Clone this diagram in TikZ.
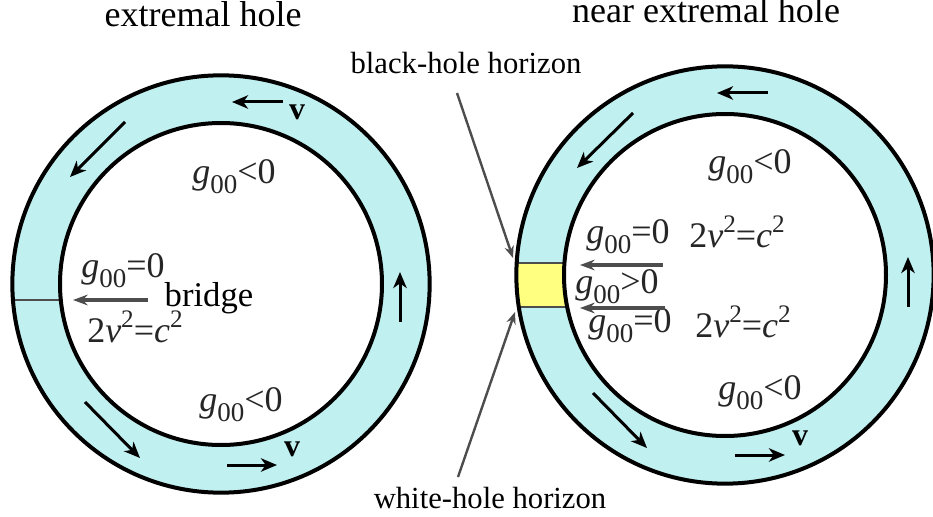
\documentclass[tikz,border=0pt]{standalone}
\usepackage{fontspec}
\setmainfont{Liberation Serif}
\usepackage{tikz}
\usetikzlibrary{arrows.meta}

\definecolor{ringcyan}{HTML}{C0F0F0}
\definecolor{horyellow}{HTML}{FFFF80}
\definecolor{pointgray}{HTML}{4D4D4D}

\newcommand{\gzz}[1]{\textit{g}\raisebox{-0.28em}{\scalebox{0.75}{00}}#1}
\newcommand{\vcrel}{2\textit{v}\raisebox{0.42em}{\scalebox{0.7}{2}}=\textit{c}\raisebox{0.42em}{\scalebox{0.7}{2}}}

\tikzset{
  flowarrow/.style={line width=2.25pt, -{Stealth[length=12pt,width=10pt,inset=3.5pt]}},
  bridgearrow/.style={pointgray, line width=2.6pt, -{Stealth[length=11pt,width=8pt]}},
  horarrow/.style={pointgray, line width=1.8pt, -{Stealth[length=9pt,width=7pt]}},
  metric/.style={font=\fontsize{27}{31}\selectfont, text=black!85, inner sep=0pt},
  title/.style={font=\fontsize{27}{32}\selectfont, inner sep=0pt},
  horlabel/.style={font=\fontsize{23}{27}\selectfont, inner sep=0pt},
  vlabel/.style={font=\fontsize{24}{28}\selectfont\bfseries, inner sep=0pt},
}

\begin{document}
\begin{tikzpicture}[x=0.75pt,y=-0.75pt]
    \useasboundingbox (0,0) rectangle (933,517);

    % the two rings
    \coordinate (lc) at (221,284);
    \coordinate (rc) at (725,275);
    \fill[ringcyan] (lc) circle[radius=156.5pt];
    \fill[ringcyan] (rc) circle[radius=156.5pt];
    \begin{scope}
      \clip (lc) circle[radius=156.5pt];
      \draw[pointgray, line width=2pt] (0,300) -- (120,300);
    \end{scope}
    \begin{scope}
      \clip (rc) circle[radius=156.5pt];
      \fill[horyellow] (500,263) rectangle (600,307);
      \draw[pointgray, line width=2.2pt] (500,263) -- (600,263);
      \draw[pointgray, line width=2.2pt] (500,307) -- (600,307);
    \end{scope}
    \fill[white] (lc) circle[radius=120.75pt];
    \fill[white] (rc) circle[radius=120.75pt];
    \draw[line width=3pt] (lc) circle[radius=156.5pt] (lc) circle[radius=120.75pt];
    \draw[line width=3pt] (rc) circle[radius=156.5pt] (rc) circle[radius=120.75pt];

    % flow along the left ring
    \draw[flowarrow] (283,102) -- (232,102);
    \draw[flowarrow] (125,122) -- (70,177);
    \draw[flowarrow] (85,402) -- (140,458);
    \draw[flowarrow] (227,465) -- (277,465);
    \draw[flowarrow] (400,322) -- (400,272);
    \node[vlabel] (vtopl) at (297,112) {v};
    \node[vlabel] (vbotl) at (292,449) {v};

    % flow along the right ring
    \draw[flowarrow] (768,93) -- (717,93);
    \draw[flowarrow] (633,113) -- (577,168);
    \draw[flowarrow] (593,393) -- (647,448);
    \draw[flowarrow] (735,455) -- (785,455);
    \draw[flowarrow] (908,307) -- (908,257);
    \node[vlabel] (vbotr) at (800,438) {v};

    % titles
    \node[title, anchor=base] (extl) at (203,27) {extremal hole};
    \node[title, anchor=base] (nextl) at (706,23) {near extremal hole};

    % left ring labels
    \node[metric] (gnegtl) at (234,177) {\gzz{<0}};
    \node[metric] (gzerol) at (123,271) {\gzz{=0}};
    \node[font=\fontsize{26}{30}\selectfont, inner sep=0pt] (bridge) at (209,298) {bridge};
    \node[metric] (vcl) at (135,327) {\vcrel};
    \node[metric] (gnegbl) at (241,405) {\gzz{<0}};
    \coordinate (bridgetail) at (148,300);
    \coordinate (bridgetip) at (73,300);
    \draw[bridgearrow] (bridgetail) -- (bridgetip);

    % right ring labels
    \node[metric] (gnegtr) at (750,167) {\gzz{<0}};
    \node[metric] (gzerour) at (628,237) {\gzz{=0}};
    \node[metric] (vcur) at (737,232) {\vcrel};
    \node[metric] (gpos) at (617,287) {\gzz{>0}};
    \node[metric] (gzerolr) at (630,326) {\gzz{=0}};
    \node[metric] (vclr) at (743,322) {\vcrel};
    \node[metric] (gnegbr) at (760,393) {\gzz{<0}};
    \coordinate (uptail) at (663,265);
    \coordinate (uptip) at (580,265);
    \coordinate (lowtail) at (665,308);
    \coordinate (lowtip) at (580,308);
    \draw[bridgearrow] (uptail) -- (uptip);
    \draw[bridgearrow] (lowtail) -- (lowtip);

    % horizons
    \node[horlabel] (bhlabel) at (466,63) {black-hole horizon};
    \node[horlabel] (whlabel) at (490,498) {white-hole horizon};
    \coordinate (bhtail) at (457,93);
    \coordinate (bhtip) at (513,258);
    \coordinate (whtail) at (458,477);
    \coordinate (whtip) at (515,312);
    \draw[horarrow] (bhtail) -- (bhtip);
    \draw[horarrow] (whtail) -- (whtip);
\end{tikzpicture}
\end{document}
